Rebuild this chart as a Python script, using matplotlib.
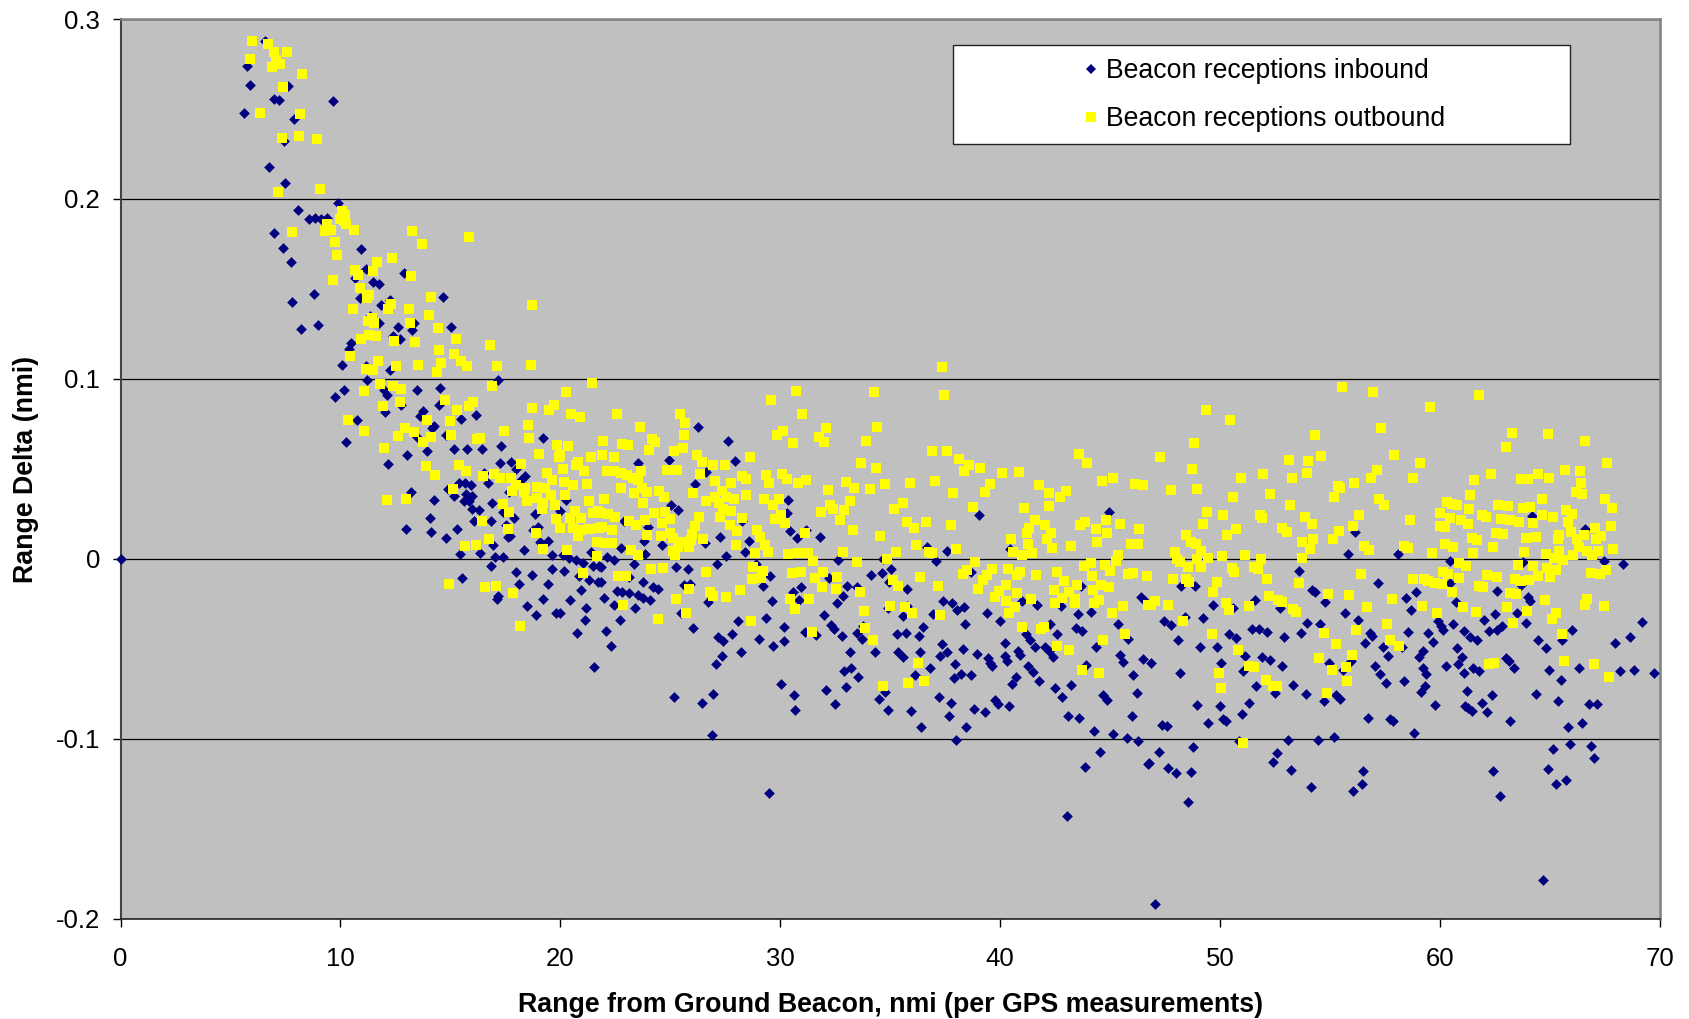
"""Range delta versus range from the ground beacon, inbound and outbound."""

import matplotlib
matplotlib.use("Agg")
import matplotlib.pyplot as plt
from matplotlib.lines import Line2D
from matplotlib.patches import Rectangle

plt.rcParams["font.family"] = ["Liberation Sans", "DejaVu Sans"]

# (range nmi, delta nmi)
inbound_close = [
    (0, 0), (6.55, .288), (5.73, .274), (5.88, .2635), (7.6, .263), (7.0, .2555), (7.2, .255), (9.68, .2545),
    (5.6, .248), (7.9, .2445), (7.44, .232), (6.77, .218), (7.47, .209), (9.88, .198), (8.08, .194), (8.58, .189),
    (8.85, .1895), (9.12, .189), (9.4, .1895), (7.0, .181), (7.38, .173), (10.94, .172), (7.76, .165), (11.18, .161),
    (12.9, .159), (10.68, .156), (11.48, .154), (11.74, .153), (8.79, .147), (14.67, .1455), (7.82, .143), (10.88, .145),
    (11.85, .141), (12.27, .144), (11.36, .135), (8.2, .128), (9.0, .13), (11.77, .131), (12.6, .129), (13.36, .131),
    (13.25, .127), (15.04, .129), (12.37, .124), (12.7, .122), (10.48, .12), (10.4, .1167), (10.07, .108), (11.16, .107),
    (12.25, .105), (11.19, .0996), (17.15, .0996), (10.16, .094), (9.77, .09), (12.0, .094), (12.12, .091), (13.5, .094),
    (14.55, .095), (12.75, .0857), (14.5, .0855), (12.04, .0817), (13.75, .082), (13.6, .0796), (15.48, .0778), (16.15, .08),
    (10.74, .077), (14.27, .074), (14.16, .073), (14.8, .069), (13.5, .068), (10.27, .065), (15.18, .061), (15.75, .061),
    (16.42, .061), (13.93, .06), (17.3, .063), (19.2, .067), (13.04, .058), (12.16, .053), (17.25, .0535), (17.75, .054),
    (17.98, .05), (18.4, .046), (18.2, .044), (16.7, .042), (16.54, .048), (15.37, .042), (15.66, .042), (15.93, .041),
    (14.87, .039), (13.2, .037), (15.16, .035), (15.7, .036), (16.0, .035), (15.6, .032), (15.86, .032), (14.27, .033),
    (16.9, .031), (16.0, .028), (16.28, .027), (17.68, .037), (17.37, .026), (17.87, .023), (18.84, .025), (20.0, .0265),
    (20.25, .033), (14.09, .023), (16.09, .021), (16.86, .021), (17.53, .019), (18.97, .018), (18.74, .016), (12.98, .0167),
    (14.13, .015), (15.3, .0167), (14.8, .0115), (17.6, .012), (17.7, .0126), (19.07, .0094), (19.45, .0098), (16.95, .008),
    (18.36, .005), (15.43, .003), (16.35, .0033), (17.03, .0013), (17.4, .001), (19.62, .0024), (20.1, .0024), (20.4, .0006),
    (20.7, -.0007), (21.04, -.002), (21.4, .004), (21.5, -.004), (21.77, -.004), (16.83, -.004), (19.62, -.0054),
    (20.16, -.0065), (17.98, -.007), (18.71, -.009), (20.86, -.0093), (21.31, -.0115), (21.72, -.013), (15.54, -.0104),
    (18.13, -.014), (19.43, -.014), (20.92, -.017), (17.15, -.0207), (17.1, -.022), (19.19, -.022), (20.43, -.023),
    (21.18, -.027), (18.48, -.0263), (19.8, -.03), (20.0, -.03), (18.87, -.031), (21.13, -.034), (20.75, -.041), (21.54, -.06),
]
inbound_middle = [
    (26.26, .0736), (27.63, .0658), (27.92, .0547), (23.53, .0534), (24.94, .0549), (26.64, .0483), (26.13, .0417),
    (25.02, .03), (25.37, .0275), (30.34, .033), (30.31, .0257), (39.02, .0247), (44.94, .0261), (22.9, .021), (28.27, .021),
    (23.98, .018), (30.44, .0154), (31.19, .016), (27.25, .0123), (30.74, .0115), (31.81, .0121), (23.82, .0099),
    (24.62, .0078), (26.56, .0088), (28.59, .0099), (22.74, .0062), (28.4, .0039), (36.69, .0064), (37.6, .0043),
    (40.44, .0055), (27.52, .0014), (23.85, .0027), (22.1, .0012), (22.42, -.0006), (32.62, -.0004), (34.67, 0),
    (37.06, -.001), (27.14, -.0025), (23.33, -.0029), (21.86, -.0045), (25.24, -.0043), (25.81, -.0058), (28.88, -.0025),
    (35.05, -.0055), (34.11, -.0088), (34.63, -.0078), (29.55, -.0097), (23.14, -.01), (32.2, -.0107), (38.69, -.0072),
    (23.76, -.013), (21.83, -.013), (25.61, -.0142), (25.9, -.0138), (29.23, -.0148), (33.02, -.0148), (33.47, -.0158),
    (34.94, -.0127), (24.2, -.0158), (24.46, -.0167), (35.77, -.0164), (30.93, -.0154), (22.58, -.0179), (22.82, -.0181),
    (23.14, -.0189), (30.57, -.0183), (23.53, -.02), (23.77, -.0216), (24.09, -.023), (21.97, -.0216), (32.85, -.0208),
    (43.68, -.0152), (46.42, -.0212), (32.58, -.0245), (30.87, -.023), (29.63, -.0236), (26.72, -.024), (22.45, -.0257),
    (23.38, -.0271), (37.41, -.0236), (37.81, -.0245), (41.0, -.0236), (41.68, -.0257), (42.75, -.0261), (38.34, -.0265),
    (38.05, -.0286), (34.89, -.0273), (35.77, -.0261), (25.48, -.0302), (31.99, -.0312), (36.93, -.0306), (35.58, -.0319),
    (39.39, -.0302), (44.11, -.0296), (43.52, -.0308), (29.36, -.0325), (22.69, -.0339), (28.1, -.0347), (40.01, -.0347),
    (32.31, -.0364), (42.27, -.036), (38.4, -.036), (45.35, -.036), (33.74, -.0374), (26.05, -.0384), (30.15, -.0378),
    (36.47, -.038), (32.43, -.0388), (22.07, -.04), (43.44, -.0386), (43.71, -.0399), (31.11, -.0407), (31.64, -.0421),
    (27.79, -.0417), (33.5, -.0409), (35.29, -.0417), (35.7, -.0409), (41.16, -.0415), (42.59, -.0417), (32.8, -.043),
    (33.71, -.0442), (27.17, -.0436), (36.29, -.0428), (27.41, -.0458), (29.04, -.0442), (41.37, -.0452), (45.81, -.0446),
    (30.15, -.0456), (37.35, -.0471), (40.2, -.0467), (41.6, -.0487), (44.35, -.0487), (29.67, -.0483), (22.31, -.0483),
    (42.04, -.0487), (33.15, -.0514), (38.29, -.05), (28.21, -.0514), (34.3, -.0518), (35.34, -.0514), (36.36, -.0518),
    (37.57, -.0518), (40.79, -.0512), (38.93, -.053), (37.28, -.0539), (40.92, -.0534), (42.2, -.0512), (45.46, -.0532),
    (27.35, -.0539), (35.58, -.0545), (40.23, -.0541), (42.39, -.0545), (46.5, -.0553), (39.44, -.0549), (40.33, -.0569),
    (45.58, -.0573), (39.53, -.0576), (27.07, -.0586), (37.94, -.0584), (39.64, -.0594), (41.27, -.0592), (43.92, -.059),
    (33.22, -.0604), (32.91, -.0621), (36.82, -.0608), (41.51, -.0627), (36.13, -.0645), (38.21, -.0637), (38.69, -.0647),
    (46.05, -.0647), (37.89, -.0662), (33.53, -.0654), (40.7, -.0654), (41.75, -.0676), (40.52, -.0693), (30.04, -.0695),
    (43.23, -.0701), (32.99, -.0709), (42.48, -.0715), (32.07, -.0726), (34.78, -.074), (30.63, -.0754), (46.23, -.0744),
    (26.96, -.0748), (25.18, -.0765), (44.67, -.0758), (44.87, -.0781), (37.22, -.0769), (42.83, -.0767), (34.49, -.0779),
    (26.42, -.0798), (39.77, -.0781), (39.88, -.0804), (32.51, -.0804), (37.76, -.0802), (40.41, -.0818), (30.68, -.0839),
    (34.92, -.0839), (35.96, -.0843), (38.8, -.0832), (39.32, -.0851), (37.68, -.0872), (43.1, -.087), (43.57, -.0886),
    (45.99, -.0872), (36.41, -.0935), (38.45, -.0933), (44.27, -.0954), (45.11, -.0974), (26.88, -.0978), (45.75, -.0997),
    (37.98, -.1003), (46.28, -.1011), (44.54, -.1071), (43.85, -.1153), (46.74, -.1137), (29.47, -.1301), (43.04, -.1427),
]
inbound_far = [
    (56.12, .015), (64.2, .024), (66.57, .0166), (55.8, .0029), (58.1, .0027), (60.47, -.001), (63.77, -.0014),
    (67.47, -.001), (68.34, -.0029), (53.57, -.0066), (48.24, -.015), (48.86, -.015), (57.17, -.0132), (60.43, -.0132),
    (63.66, -.0144), (62.61, -.0175), (46.6, -.0236), (51.57, -.0226), (54.17, -.0173), (54.33, -.0185), (58.43, -.0214),
    (58.91, -.0183), (63.98, -.021), (64.11, -.0234), (54.78, -.024), (60.71, -.024), (49.68, -.0257), (50.6, -.0273),
    (52.71, -.0271), (58.67, -.0284), (55.69, -.0302), (62.5, -.0306), (63.52, -.0302), (48.38, -.0323), (49.2, -.0329),
    (47.43, -.0343), (47.76, -.0364), (56.26, -.0339), (59.92, -.0347), (62.02, -.0337), (63.89, -.0358), (53.97, -.0358),
    (54.54, -.0362), (60.03, -.0374), (60.6, -.036), (69.18, -.0349), (51.45, -.0388), (51.78, -.0391), (52.13, -.0407),
    (60.12, -.0395), (61.11, -.0399), (62.24, -.0401), (62.58, -.0397), (62.83, -.0374), (66.01, -.0395), (53.66, -.0411),
    (56.8, -.0409), (58.56, -.0407), (59.44, -.0411), (50.39, -.0419), (56.92, -.0425), (50.71, -.0438), (52.91, -.0432),
    (61.35, -.0432), (48.07, -.0452), (56.57, -.0465), (59.68, -.046), (61.69, -.0452), (64.46, -.0452), (65.53, -.0452),
    (67.95, -.0469), (68.64, -.0436), (49.07, -.0487), (49.85, -.0491), (57.4, -.0491), (58.27, -.0487), (60.78, -.0493),
    (64.8, -.0497), (59.23, -.0512), (51.14, -.0541), (51.91, -.0545), (57.63, -.0539), (59.04, -.0545), (61.0, -.0545),
    (62.98, -.0549), (46.84, -.0576), (52.26, -.0561), (50.03, -.0576), (54.94, -.0576), (55.93, -.0565), (63.14, -.0569),
    (52.82, -.0592), (57.04, -.0594), (59.24, -.0604), (60.25, -.0592), (60.82, -.0586), (61.48, -.0606), (61.78, -.0621),
    (63.34, -.0604), (64.97, -.0619), (66.31, -.0604), (68.19, -.0623), (68.83, -.0619), (69.72, -.0635), (48.16, -.0631),
    (51.05, -.0623), (55.58, -.0615), (59.37, -.0641), (61.08, -.0631), (57.27, -.0637), (65.48, -.0674), (57.52, -.0689),
    (58.34, -.0676), (51.65, -.0707), (53.33, -.0699), (59.32, -.0703), (59.15, -.0738), (61.24, -.0736), (52.48, -.0744),
    (53.9, -.075), (55.29, -.0754), (55.45, -.0775), (54.73, -.0787), (62.37, -.0754), (64.35, -.0752), (65.37, -.0789),
    (51.3, -.0798), (61.91, -.0798), (48.96, -.0812), (49.98, -.0816), (59.79, -.0812), (61.14, -.0814), (66.76, -.0804),
    (67.12, -.0804), (61.27, -.083), (61.43, -.0847), (50.98, -.0859), (62.13, -.0851), (50.12, -.089), (50.27, -.09),
    (49.45, -.0913), (56.72, -.0886), (57.71, -.0888), (57.87, -.09), (63.18, -.09), (66.45, -.0911), (47.35, -.0921),
    (47.6, -.0929), (65.83, -.0935), (58.8, -.0964), (55.16, -.0991), (53.09, -.1003), (54.43, -.1003), (50.86, -.1011),
    (65.9, -.103), (48.78, -.1042), (66.88, -.104), (47.24, -.1071), (52.59, -.1075), (65.15, -.1054), (52.42, -.1126),
    (46.77, -.1135), (66.98, -.1104), (47.65, -.1161), (48.0, -.1188), (48.67, -.1184), (53.2, -.1174), (56.5, -.118),
    (62.42, -.1178), (64.89, -.1167), (65.72, -.1225), (65.26, -.125), (56.44, -.1248), (54.13, -.1264), (56.02, -.1289),
    (62.72, -.1318), (48.56, -.1348), (64.67, -.1782), (47.06, -.1918),
]

outbound_close = [
    (6.0, .288), (6.71, .286), (6.97, .2817), (7.56, .2817), (5.9, .278), (7.05, .277), (7.26, .275), (6.9, .2735),
    (8.26, .2696), (7.4, .262), (6.36, .248), (8.18, .247), (7.36, .2337), (8.12, .2348), (8.95, .2333), (9.08, .2056),
    (7.15, .204), (10.06, .1933), (10.2, .191), (9.97, .189), (10.15, .188), (10.27, .186), (9.4, .186), (9.58, .183),
    (9.3, .182), (10.6, .183), (7.8, .1817), (13.27, .182), (15.85, .179), (13.7, .175), (9.77, .176), (9.83, .169),
    (12.36, .167), (11.68, .165), (10.65, .1605), (11.48, .16), (10.8, .1576), (13.2, .157), (9.68, .155), (10.88, .1506),
    (11.3, .1465), (11.2, .145), (14.1, .1455), (12.3, .1417), (12.18, .139), (10.56, .139), (13.1, .139), (14.03, .1355),
    (11.44, .134), (13.15, .131), (18.7, .141), (11.24, .132), (11.54, .131), (14.43, .1285), (15.25, .122), (10.93, .122),
    (11.3, .1244), (11.6, .124), (12.42, .121), (13.4, .1207), (16.8, .1187), (14.5, .116), (15.18, .114), (10.45, .113),
    (11.7, .11), (14.59, .109), (15.48, .11), (15.75, .107), (12.53, .107), (13.54, .1076), (17.13, .107), (18.66, .1076),
    (11.16, .1056), (11.5, .105), (14.37, .104), (11.8, .0974), (16.87, .096), (12.37, .096), (12.75, .0946), (11.06, .0935),
    (21.43, .098), (20.27, .093), (14.75, .0885), (12.69, .087), (11.93, .085), (16.04, .087), (15.86, .085), (15.3, .083),
    (18.7, .084), (19.7, .0857), (19.5, .0826), (20.48, .0807), (20.89, .079), (10.33, .077), (13.93, .0774), (14.98, .0765),
    (11.09, .071), (18.54, .0743), (12.92, .073), (13.33, .0706), (17.42, .071), (12.6, .0685), (14.13, .0676), (15.04, .069),
    (18.59, .067), (13.75, .065), (16.21, .0667), (16.34, .067), (11.98, .0615), (19.86, .0635), (20.36, .0626), (19.04, .0585),
    (20.0, .058), (19.95, .0565), (21.39, .0568), (13.87, .0515), (15.4, .052), (18.22, .053), (20.8, .0537), (20.7, .052),
    (20.1, .05), (15.71, .049), (21.09, .049), (14.31, .0465), (16.47, .046), (16.98, .047), (17.27, .045), (17.75, .045),
    (19.37, .048), (19.6, .0437), (20.15, .0426), (20.56, .041), (21.2, .0417), (18.0, .041), (18.4, .0394), (18.95, .04),
    (19.31, .0394), (17.8, .038), (15.13, .0387), (18.33, .037), (19.59, .0357), (20.22, .0357), (18.5, .0324), (18.96, .034),
    (12.1, .033), (12.98, .0333), (21.31, .0324), (17.37, .0306), (19.22, .031), (19.75, .03), (19.15, .028), (17.68, .026),
    (20.66, .0267), (21.5, .0256), (21.72, .0265), (20.44, .0228), (20.95, .0226), (19.81, .0224), (16.42, .021), (20.0, .017),
    (20.56, .0172), (17.6, .0169), (20.93, .016), (21.31, .0167), (21.77, .0172), (18.89, .0144), (20.78, .0126), (16.77, .0113),
    (21.66, .0093), (16.16, .0078), (15.66, .007), (19.21, .0056), (20.31, .005), (21.68, .0015), (21.04, -.008), (14.93, -.014),
    (17.07, -.015), (16.59, -.0157), (17.86, -.0187), (18.16, -.0374),
]
outbound_middle = [
    (37.35, .1067), (30.71, .0931), (29.6, .0882), (34.25, .0927), (37.46, .0913), (22.59, .0804), (25.45, .0804), (31.0, .0804),
    (25.69, .0754), (23.61, .0736), (34.38, .0736), (32.08, .0726), (30.12, .0711), (29.83, .0687), (25.62, .0687), (31.76, .0678),
    (21.94, .0656), (24.17, .0668), (24.3, .065), (22.82, .0641), (23.06, .0631), (30.58, .0647), (32.0, .0652), (33.9, .0654),
    (24.01, .0608), (25.56, .0615), (25.15, .06), (36.9, .06), (37.57, .0598), (21.91, .058), (26.2, .058), (22.42, .0565),
    (28.62, .0565), (43.57, .0584), (26.45, .0541), (38.13, .0555), (43.95, .0536), (33.68, .0532), (26.96, .0522), (38.57, .052),
    (27.49, .052), (39.1, .0508), (34.33, .0508), (24.84, .0497), (25.32, .0497), (22.1, .0489), (22.42, .0487), (22.74, .0479),
    (23.66, .0489), (38.37, .0489), (40.1, .0477), (40.84, .0481), (26.37, .0471), (23.02, .0465), (29.37, .0465), (28.26, .0462),
    (30.07, .0473), (23.3, .045), (23.53, .0438), (27.01, .0436), (28.45, .0442), (30.31, .0444), (31.19, .044), (30.81, .0425),
    (27.78, .0423), (29.48, .0423), (33.0, .0428), (35.91, .0423), (37.03, .0432), (44.65, .0434), (45.14, .045), (46.12, .0415),
    (46.47, .0411), (22.77, .0393), (23.69, .0397), (34.78, .0417), (39.53, .0417), (41.78, .0413), (33.36, .0393), (34.08, .0389),
    (32.19, .0384), (24.49, .038), (23.33, .0366), (23.96, .037), (26.02, .0366), (27.36, .0376), (37.87, .0364), (39.32, .0372),
    (42.2, .0364), (43.01, .038), (28.45, .0356), (24.73, .0347), (27.04, .0347), (27.52, .0345), (27.89, .0335), (22.0, .0331),
    (29.96, .0335), (26.64, .0321), (29.24, .0331), (42.7, .0343), (33.18, .0321), (23.77, .031), (27.2, .031), (29.67, .0302),
    (35.59, .0312), (32.24, .0298), (42.24, .0294), (35.18, .028), (32.39, .028), (32.9, .0275), (38.77, .029), (41.09, .0284),
    (27.39, .028), (27.76, .0269), (31.83, .0263), (24.24, .0257), (24.76, .0263), (21.83, .0257), (22.18, .0249), (22.5, .0236),
    (30.03, .0243), (26.31, .0236), (27.25, .0236), (28.24, .0226), (23.85, .0218), (23.12, .0212), (25.0, .022), (29.75, .0224),
    (32.7, .0214), (41.56, .0216), (35.74, .0206), (36.61, .0208), (24.6, .0201), (23.42, .0191), (27.71, .0191), (30.23, .0201),
    (26.13, .0185), (37.74, .0191), (42.04, .0191), (43.87, .0203), (44.79, .0216), (45.46, .0195), (43.63, .0189), (21.89, .0177),
    (36.1, .0171), (41.32, .0171), (44.35, .0166), (46.31, .0164), (28.96, .0162), (22.37, .016), (28.03, .0158), (33.3, .016),
    (23.92, .0134), (24.97, .0146), (26.0, .014), (31.11, .0142), (34.54, .0129), (41.22, .0142), (42.32, .0146), (44.86, .0142),
    (24.59, .0129), (25.13, .0119), (29.08, .0123), (42.11, .0113), (26.48, .0109), (25.58, .0095), (25.96, .0103), (40.47, .0109),
    (44.4, .0095), (45.94, .0086), (46.26, .0086), (22.02, .0088), (22.34, .0088), (27.97, .008), (29.29, .0078), (36.15, .008),
    (41.27, .0082), (42.35, .0062), (43.23, .0072), (25.37, .0068), (25.85, .0068), (23.22, .0051), (25.13, .0047), (29.44, .0037),
    (28.83, .0031), (23.53, .0023), (25.21, .0023), (30.36, .0029), (30.79, .0031), (31.25, .0031), (32.83, .0037), (35.26, .0037),
    (36.74, .0039), (36.9, .0031), (37.98, .0055), (40.57, .0039), (41.0, .0023), (41.45, .0031), (45.35, .0021), (31.51, -.001),
    (33.5, -.0016), (34.83, .0002), (38.85, -.0016), (45.26, -.001), (43.79, -.0039), (44.14, -.0023), (44.75, -.0035), (24.14, -.0058),
    (24.65, -.0051), (26.61, -.007), (28.77, -.0047), (29.2, -.0066), (38.5, -.006), (39.64, -.0055), (40.36, -.0055), (40.89, -.0072),
    (42.59, -.0074), (44.99, -.0066), (30.55, -.0078), (30.93, -.0072), (31.96, -.0074), (38.32, -.0086), (39.4, -.009), (45.83, -.0082),
    (46.02, -.008), (46.66, -.0097), (22.61, -.0092), (22.98, -.0092), (32.59, -.0099), (36.37, -.0101), (40.76, -.009), (41.64, -.009),
    (44.19, -.0097), (28.72, -.0111), (29.12, -.0107), (31.59, -.0107), (39.2, -.0117), (42.91, -.0121), (31.91, -.0154), (35.11, -.0119),
    (35.37, -.0148), (37.17, -.0148), (40.28, -.0146), (43.5, -.0144), (44.59, -.0142), (44.94, -.0154), (25.85, -.0169), (28.16, -.0171),
    (32.55, -.0169), (38.97, -.0167), (42.43, -.0171), (44.24, -.0171), (26.8, -.0181), (33.61, -.0185), (39.96, -.0179), (40.76, -.0189),
    (43.12, -.0183), (26.92, -.0203), (27.54, -.021), (39.77, -.021), (25.27, -.0224), (30.44, -.0222), (31.32, -.022), (40.25, -.0234),
    (41.38, -.0222), (42.8, -.0214), (43.39, -.0224), (44.51, -.0228), (44.27, -.0243), (42.5, -.0245), (43.39, -.0245), (22.86, -.0253),
    (35.0, -.0261), (35.66, -.0267), (40.66, -.0265), (45.58, -.0263), (46.74, -.0257), (30.65, -.0275), (33.79, -.0288), (35.97, -.0302),
    (25.72, -.0302), (37.28, -.031), (40.41, -.0302), (45.1, -.03), (24.43, -.0333), (28.67, -.0345), (33.85, -.0386), (40.97, -.0376),
    (42.0, -.038), (41.84, -.0388), (31.43, -.0405), (45.69, -.0415), (34.2, -.0448), (44.68, -.0448), (42.56, -.0483), (43.15, -.0508),
    (36.26, -.0578), (43.74, -.0617), (44.48, -.0633), (36.55, -.0678), (35.8, -.0687), (34.67, -.0703),
]
outbound_far = [
    (55.53, .0956), (56.96, .0927), (61.78, .0911), (59.52, .0845), (49.34, .083), (50.44, .0775), (57.32, .073), (63.26, .0699),
    (64.89, .0693), (54.32, .0687), (66.61, .0658), (48.81, .0647), (62.98, .0623), (47.28, .0567), (54.6, .0571), (57.92, .0576),
    (53.12, .0551), (54.0, .0545), (59.07, .0536), (67.6, .0536), (48.7, .0502), (57.14, .0497), (65.69, .0497), (66.37, .0489),
    (53.93, .0477), (51.97, .0473), (62.31, .0473), (64.46, .0473), (50.94, .0452), (53.28, .0452), (56.84, .0448), (58.78, .045),
    (64.97, .0452), (61.56, .044), (63.66, .0442), (63.98, .0446), (47.75, .0386), (48.97, .039), (56.09, .0425), (66.42, .0423),
    (55.37, .0407), (55.45, .0395), (52.28, .0362), (55.19, .0347), (50.58, .0347), (61.38, .0358), (66.17, .037), (66.45, .0362),
    (57.24, .0331), (57.44, .0302), (67.49, .0333), (60.31, .0314), (60.55, .0308), (60.79, .03), (64.64, .0331), (53.17, .0302),
    (62.63, .0298), (63.07, .0294), (63.76, .0282), (64.11, .029), (61.32, .028), (65.74, .0271), (67.81, .0282), (49.39, .0259),
    (50.14, .0247), (51.8, .0247), (56.33, .0245), (60.01, .0257), (66.02, .0251), (51.92, .0226), (53.87, .0234), (61.91, .0247),
    (62.07, .0232), (64.62, .0247), (65.15, .0236), (58.61, .0218), (60.47, .0226), (60.95, .0216), (62.79, .0224), (63.18, .0214),
    (63.58, .0206), (64.22, .0201), (49.21, .0197), (54.19, .0197), (61.27, .0197), (65.82, .0203), (60.0, .0181), (60.23, .0177),
    (67.78, .0181), (52.82, .0171), (56.02, .0181), (50.7, .0166), (53.06, .015), (55.42, .0156), (67.06, .0171), (65.42, .0134),
    (62.55, .0144), (62.87, .0138), (65.94, .015), (66.53, .0134), (50.33, .0134), (48.43, .0132), (67.33, .0129), (61.43, .0117),
    (63.9, .0117), (64.35, .0125), (54.24, .0113), (55.11, .0109), (65.34, .0109), (61.67, .0103), (67.09, .0109), (66.21, .0109),
    (53.7, .0095), (48.67, .0097), (48.91, .0086), (60.23, .0086), (62.39, .0068), (56.53, .0072), (58.35, .0072), (58.56, .0062),
    (60.6, .0064), (54.09, .0055), (56.77, .0051), (66.3, .0068), (67.87, .0053), (49.15, .0047), (47.95, .0039), (59.64, .0035),
    (61.51, .0031), (63.82, .0037), (65.39, .0045), (66.69, .0045), (67.17, .0045), (64.8, .0027), (66.9, .0021), (66.06, .0021),
    (50.09, .0014), (51.11, .0021), (53.7, .0008), (49.47, .0008), (48.94, .0002), (51.86, -.0002), (48.03, -.0002), (48.19, -.0014),
    (65.18, .0004), (65.58, -.0006), (60.87, -.0023), (61.19, -.0039), (63.55, -.0033), (64.22, -.0041), (48.54, -.0043), (49.15, -.0043),
    (51.54, -.0043), (50.54, -.0051), (51.7, -.0058), (50.63, -.007), (64.86, -.0051), (65.26, -.006), (67.54, -.006), (60.12, -.0072),
    (66.85, -.0078), (67.28, -.0082), (56.41, -.0086), (60.36, -.0086), (64.46, -.0093), (62.15, -.009), (62.59, -.0101), (60.84, -.0103),
    (65.02, -.0101), (47.84, -.0109), (52.15, -.0111), (58.75, -.0113), (59.28, -.0113), (48.43, -.0113), (63.39, -.0109), (64.06, -.0117),
    (63.66, -.0123), (59.44, -.0123), (59.76, -.0134), (60.07, -.0138), (48.59, -.013), (49.87, -.0127), (53.58, -.0134), (61.75, -.0148),
    (61.96, -.0158), (49.69, -.0183), (60.55, -.0181), (63.2, -.0189), (63.46, -.0195), (54.89, -.0197), (55.85, -.0199), (52.21, -.0208),
    (57.81, -.022), (66.69, -.022), (64.75, -.023), (52.61, -.023), (52.82, -.024), (47.03, -.0236), (46.84, -.0257), (47.62, -.0253),
    (50.27, -.0247), (51.29, -.0259), (66.57, -.0253), (67.44, -.0261), (50.39, -.0284), (53.3, -.0277), (53.47, -.0292), (56.66, -.0267),
    (59.17, -.0263), (61.03, -.0269), (63.04, -.0267), (61.62, -.0296), (59.87, -.0298), (63.93, -.0288), (65.29, -.0302), (48.3, -.0345),
    (65.08, -.0335), (57.57, -.036), (63.33, -.0354), (56.2, -.0397), (49.63, -.0419), (54.73, -.0411), (65.53, -.0419), (57.73, -.0448),
    (58.11, -.0485), (55.29, -.0473), (50.82, -.0504), (55.98, -.0536), (54.49, -.0549), (65.62, -.0565), (67.01, -.0584), (62.47, -.0576),
    (62.23, -.0584), (51.33, -.0594), (51.54, -.06), (55.72, -.06), (55.07, -.0617), (49.96, -.0631), (67.67, -.0658), (52.1, -.0674),
    (55.77, -.0678), (52.39, -.0707), (52.6, -.0707), (50.04, -.0719), (54.84, -.0744), (51.06, -.1022),
]

x_ticks = [0, 10, 20, 30, 40, 50, 60, 70]
y_ticks = [-0.2, -0.1, 0, 0.1, 0.2, 0.3]
y_tick_labels = ["-0.2", "-0.1", "0", "0.1", "0.2", "0.3"]

NAVY = "#000080"
YELLOW = "#FFFF00"
W, H = 1689, 1019


def main():
    fig = plt.figure(figsize=(W / 100, H / 100), dpi=100)
    ax = fig.add_axes([120.5 / W, 1 - 919 / H, 1539.5 / W, 900 / H])
    ax.set_facecolor("#C0C0C0")

    inbound = inbound_close + inbound_middle + inbound_far
    outbound = outbound_close + outbound_middle + outbound_far
    ax.scatter(*zip(*inbound), marker="D", s=30, color=NAVY, linewidths=0, clip_on=False, zorder=3)
    ax.scatter(*zip(*outbound), marker="s", s=54, color=YELLOW, linewidths=0, clip_on=False, zorder=4)

    ax.set_xlim(0, 70)
    ax.set_ylim(-0.2, 0.3)
    ax.set_xticks(x_ticks)
    ax.set_yticks(y_ticks)
    ax.set_yticklabels(y_tick_labels)
    ax.tick_params(labelsize=18.5, length=5.8, width=1.0, color="black")
    ax.tick_params(axis="x", pad=14)
    ax.tick_params(axis="y", pad=9)
    ax.grid(axis="y", color="black", lw=0.9)
    ax.set_axisbelow(True)

    for side in ("top", "right"):
        ax.spines[side].set_color("#808080")
        ax.spines[side].set_linewidth(1.8)
    ax.spines["left"].set_color("#444444")
    ax.spines["left"].set_linewidth(1.5)
    ax.spines["bottom"].set_color("#222222")
    ax.spines["bottom"].set_linewidth(1.2)

    fig.text(891 / W, 1 - 1005 / H, "Range from Ground Beacon, nmi (per GPS measurements)",
             fontsize=19.3, fontweight="bold", ha="center", va="center")
    fig.text(26 / W, 1 - 469 / H, "Range Delta (nmi)", fontsize=19.3, fontweight="bold",
             rotation=90, ha="center", va="center")

    # legend box is wider than its content, so the frame is drawn apart
    fig.add_artist(Rectangle((953 / W, 1 - 144 / H), 617 / W, 99.5 / H, transform=fig.transFigure,
                             facecolor="white", edgecolor="#222222", lw=1.0, zorder=5))
    handles = [
        Line2D([0], [0], ls="", marker="D", ms=5.2, color=NAVY, mew=0, label="Beacon receptions inbound"),
        Line2D([0], [0], ls="", marker="s", ms=7.2, color=YELLOW, mew=0, label="Beacon receptions outbound"),
    ]
    leg = fig.legend(handles=handles, loc="center left", bbox_to_anchor=(1079 / W, 1 - 95 / H),
                     frameon=False, fontsize=19.2, labelspacing=0.82, handlelength=0.9,
                     handletextpad=0.1, borderpad=0, borderaxespad=0)
    leg.set_zorder(6)

    fig.savefig("out.png", dpi=100, facecolor="white")
    plt.close(fig)


if __name__ == "__main__":
    main()
